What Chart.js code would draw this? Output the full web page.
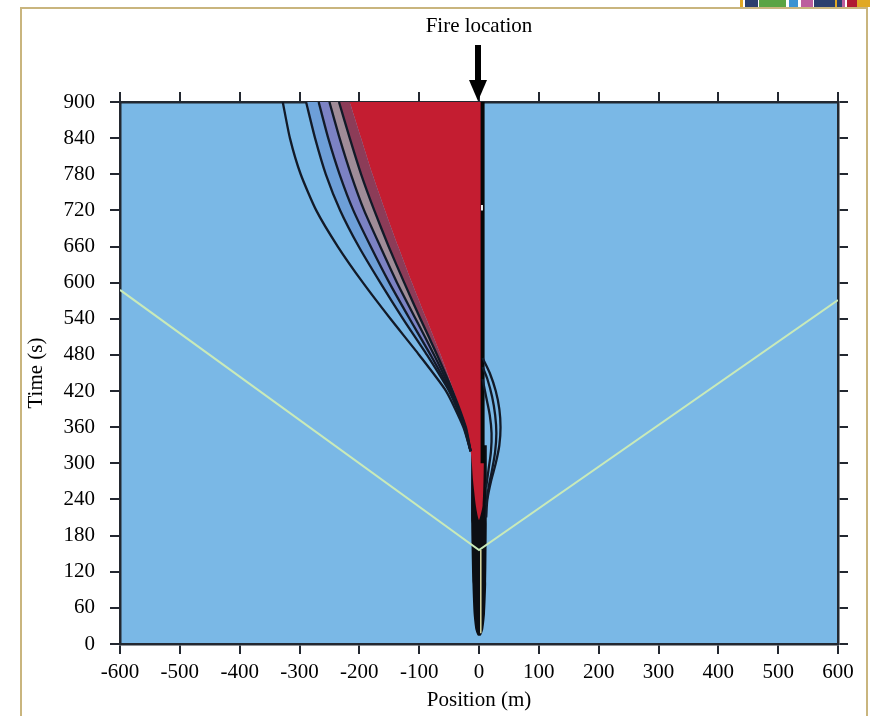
<!DOCTYPE html>
<html>
<head>
<meta charset="utf-8">
<script src="https://cdn.jsdelivr.net/npm/chart.js@4.4.1/dist/chart.umd.min.js"></script>
<style>
  body { margin: 0; background: #fff; }
  #wrap { position: relative; width: 871px; height: 716px; overflow: hidden; }
  #frame { position: absolute; left: 20px; top: 7px; width: 844px; height: 720px; border: 2px solid #c9b57e; border-bottom: none; }
  #logo { position: absolute; top: 0; left: 740px; height: 7px; display: flex; }
  #logo span { display: block; height: 7px; }
  canvas { position: absolute; left: 0; top: 0; }
</style>
</head>
<body>
<div id="wrap">
  <div id="frame"></div>
  <div id="logo">
    <span style="width:3px;background:#e0a824"></span><span style="width:2px"></span>
    <span style="width:13px;background:#2b3f6e"></span><span style="width:1px"></span>
    <span style="width:27px;background:#5ba443"></span><span style="width:3px"></span>
    <span style="width:9px;background:#3c93d2"></span><span style="width:3px"></span>
    <span style="width:12px;background:#bc5f9e"></span><span style="width:1px"></span>
    <span style="width:21px;background:#2b3f6e"></span>
    <span style="width:2px;background:#e0a824"></span>
    <span style="width:5px;background:#2b3f6e"></span>
    <span style="width:3px;background:#bc5f9e"></span><span style="width:2px"></span>
    <span style="width:10px;background:#b01a32"></span>
    <span style="width:13px;background:#e0a824"></span>
  </div>
  <canvas id="fireChart" width="871" height="716"></canvas>
</div>
<script>
// time grid shared by the left contour lines (s)
const TIMES = [900, 840, 780, 720, 660, 600, 540, 480, 420, 360, 320];
// contour positions (m), outermost first
const outerPos = [-328, -316, -298, -272, -236, -194, -148, -100, -55, -26, -14];
const line1Pos = [-289, -274, -256, -232, -201, -165, -127, -87, -50, -25, -14];
const line2Pos = [-268, -252, -233, -210, -181, -150, -116, -81, -48, -24, -14];
const line3Pos = [-250, -233, -214, -192, -165, -137, -106, -75, -46, -23, -14];
const line4Pos = [-234, -216, -197, -175, -151, -125, -98, -70, -44, -22, -14];
const redEdge  = [-216, -197, -178, -157, -135, -112, -88, -64, -42, -22, -14];
// lower tip and right side of the red region
const redTipT = [300, 272, 228, 206, 230, 300, 600, 900];
const redTipX = [-12, -10, -5, 0, 6, 8, 6, 5];
// narrow dark column near the fire
const colT = [330, 200, 100, 50, 24, 14, 14, 24, 50, 100, 200, 330];
const colX = [-13, -13, -11, -9, -6, -2, 3, 7, 10, 12, 13, 13];
// right hand contours
const right1T = [475, 450, 420, 390, 360, 330, 300, 270, 240, 210];
const right1X = [6, 18, 28, 34, 36, 34, 28, 20, 14, 12];
const right2T = [460, 440, 410, 380, 350, 320, 290, 260, 230];
const right2X = [6, 14, 22, 27, 29, 27, 22, 16, 12];
const right3T = [440, 410, 380, 350, 320, 290, 260];
const right3X = [6, 12, 18, 21, 20, 16, 12];
// black line on the fire side and its small white gap
const fireLineT = [900, 300];
const fireLineX = [6, 6];
const gapT = [729, 720];
const gapX = [5, 5];
// pale straight fronts
const frontX = [-600, 0, 600];
const frontT = [588, 156, 571];
const innerT = [156, 18];
const innerX = [3, 3];

const FIRE_POS = 0;
const FONT = '"Liberation Serif", "Times New Roman", serif';

function pts(xs, ts) {
  return xs.map((x, i) => ({ x: x, y: ts[i] }));
}

function shape(data, color, order) {
  return {
    data: data, showLine: true, fill: 'shape', backgroundColor: color,
    borderColor: 'transparent', borderWidth: 0, pointRadius: 0, tension: 0.2, order: order
  };
}

function curve(data, color, width, order, tension) {
  return {
    data: data, showLine: true, fill: false, borderColor: color, borderWidth: width,
    pointRadius: 0, tension: tension || 0, order: order
  };
}

const areaBg = {
  id: 'areaBg',
  beforeDraw(chart) {
    const a = chart.chartArea;
    chart.ctx.save();
    chart.ctx.fillStyle = '#7ab8e6';
    chart.ctx.fillRect(a.left, a.top, a.right - a.left, a.bottom - a.top);
    chart.ctx.restore();
  }
};

const fireLabel = {
  id: 'fireLabel',
  afterDraw(chart) {
    const ctx = chart.ctx;
    const x = chart.scales.x.getPixelForValue(FIRE_POS) - 1;
    const top = chart.chartArea.top;
    ctx.save();
    ctx.fillStyle = '#000';
    ctx.font = '21px ' + FONT;
    ctx.textAlign = 'center';
    ctx.textBaseline = 'middle';
    ctx.fillText('Fire location', x + 1, top - 76);
    ctx.fillRect(x - 3, top - 57, 6, 38);
    ctx.beginPath();
    ctx.moveTo(x - 9, top - 22);
    ctx.lineTo(x + 9, top - 22);
    ctx.lineTo(x, top - 1);
    ctx.closePath();
    ctx.fill();
    ctx.restore();
  }
};

const axisGrid = { drawOnChartArea: false, color: '#232830', lineWidth: 2, tickLength: 10 };
const axisBorder = { color: '#232830', width: 2.5 };
const tickFont = { family: FONT, size: 21 };

new Chart(document.getElementById('fireChart').getContext('2d'), {
  type: 'scatter',
  data: {
    datasets: [
      shape(pts(line1Pos, TIMES).concat(pts(line2Pos, TIMES).reverse()), '#6d9fd8', 14),
      shape(pts(line2Pos, TIMES).concat(pts(line3Pos, TIMES).reverse()), '#7c82c4', 14),
      shape(pts(line3Pos, TIMES).concat(pts(line4Pos, TIMES).reverse()), '#a08c98', 14),
      shape(pts(line4Pos, TIMES).concat(pts(redEdge, TIMES).reverse()), '#8c3c58', 14),
      shape(pts(colX, colT), '#0c0e14', 12),
      shape(pts(redEdge, TIMES).concat(pts(redTipX, redTipT)), '#c41d31', 11),
      curve(pts(fireLineX, fireLineT), '#080808', 4, 10),
      curve(pts(gapX, gapT), '#e8eef0', 2, 9),
      curve(pts(outerPos, TIMES), '#121a28', 2.3, 8, 0.2),
      curve(pts(line1Pos, TIMES), '#121a28', 2.3, 8, 0.2),
      curve(pts(line2Pos, TIMES), '#121a28', 2.3, 8, 0.2),
      curve(pts(line3Pos, TIMES), '#121a28', 2.3, 8, 0.2),
      curve(pts(line4Pos, TIMES), '#121a28', 2.3, 8, 0.2),
      curve(pts(right1X, right1T), '#121a28', 2.3, 8, 0.3),
      curve(pts(right2X, right2T), '#121a28', 2.3, 8, 0.3),
      curve(pts(right3X, right3T), '#121a28', 2.3, 8, 0.3),
      curve(pts(frontX, frontT), '#c9eab9', 2, 5),
      curve(pts(innerX, innerT), '#dcdca4', 1.5, 4)
    ]
  },
  options: {
    responsive: false,
    animation: false,
    layout: { padding: { left: 0, right: 23, top: 92, bottom: 0 } },
    plugins: { legend: { display: false }, tooltip: { enabled: false } },
    scales: {
      x: {
        type: 'linear', position: 'bottom', min: -600, max: 600,
        ticks: { stepSize: 100, color: '#000', font: tickFont, padding: 6, maxRotation: 0, autoSkip: false },
        grid: axisGrid, border: axisBorder,
        title: { display: true, text: 'Position (m)', color: '#000', font: tickFont, padding: { top: 0, bottom: 3 } },
        afterFit: function (s) { s.height = 72; }
      },
      y: {
        type: 'linear', position: 'left', min: 0, max: 900,
        ticks: { stepSize: 60, color: '#000', font: tickFont, padding: 15, autoSkip: false },
        grid: axisGrid, border: axisBorder,
        title: { display: true, text: 'Time (s)', color: '#000', font: tickFont, padding: { top: 24, bottom: 0 } },
        afterFit: function (s) { s.width = 120; }
      },
      x2: {
        type: 'linear', position: 'top', min: -600, max: 600,
        ticks: { display: false, stepSize: 100 },
        grid: axisGrid, border: axisBorder,
        afterFit: function (s) { s.height = 10; }
      },
      y2: {
        type: 'linear', position: 'right', min: 0, max: 900,
        ticks: { display: false, stepSize: 60 },
        grid: axisGrid, border: axisBorder,
        afterFit: function (s) { s.width = 10; }
      }
    }
  },
  plugins: [areaBg, fireLabel]
});
</script>
</body>
</html>
